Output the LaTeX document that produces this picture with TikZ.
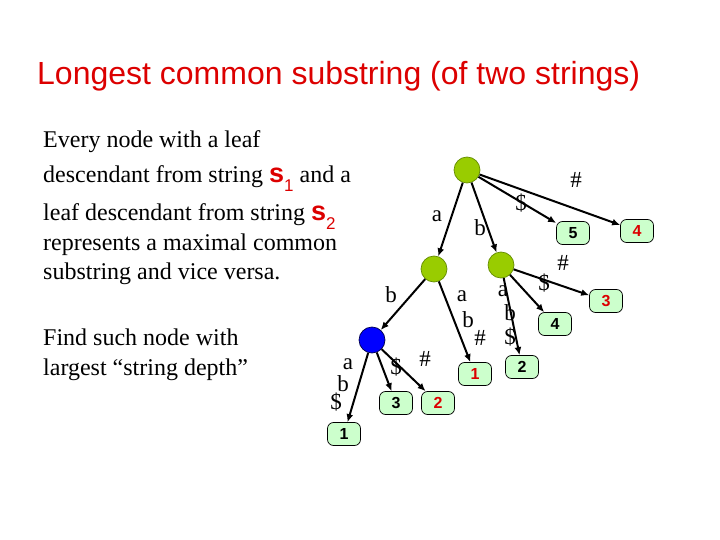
\documentclass[tikz,border=0pt]{standalone}
\usepackage{fontspec}
\setmainfont{Liberation Serif}
\setsansfont{Liberation Sans}
\usetikzlibrary{arrows.meta}
\definecolor{titlered}{RGB}{220,0,0}
\definecolor{leaffill}{RGB}{204,255,204}
\definecolor{inner}{RGB}{153,204,0}
\definecolor{innerdraw}{RGB}{100,140,0}
\definecolor{bluenode}{RGB}{0,0,255}
\tikzset{
  inode/.style={circle,draw=innerdraw,fill=inner,line width=0.7pt,minimum size=26pt,inner sep=0pt},
  bnode/.style={circle,draw=black!70!blue,fill=bluenode,line width=0.7pt,minimum size=26pt,inner sep=0pt},
  leaf/.style={rectangle,rounded corners=6pt,draw=black,fill=leaffill,line width=0.7pt,minimum width=33pt,minimum height=23pt,inner sep=0pt,font=\sffamily\bfseries\fontsize{16}{16}\selectfont},
  redleaf/.style={leaf,text=titlered},
  edge/.style={line width=2pt,-{Latex[length=8pt,width=7pt]}},
  lab/.style={inner sep=0pt,font=\fontsize{23}{23}\selectfont},
  body/.style={anchor=base west,inner sep=0pt,font=\fontsize{24}{24}\selectfont},
}
\newcommand{\sone}[1]{{\color{titlered}\textsf{\textbf{\fontsize{27}{27}\selectfont s}}\raisebox{-9pt}{\textsf{\fontsize{17}{17}\selectfont #1}}}}
\begin{document}
\begin{tikzpicture}[x=1pt,y=-1pt]
\useasboundingbox (0,0) rectangle (720,540);
% title
\node[anchor=base west,inner sep=0pt,text=titlered,font=\sffamily\fontsize{32}{32}\selectfont] (title) at (37,85) {Longest common substring (of two strings)};
% body text
\node[body] (t1) at (43,148) {Every node with a leaf};
\node[body] (t2) at (43,183) {descendant from string \sone{1} and a};
\node[body] (t3) at (43,221) {leaf descendant from string \sone{2}};
\node[body] (t4) at (43,251) {represents a maximal common};
\node[body] (t5) at (43,279) {substring and vice versa.};
\node[body] (t6) at (43,345) {Find such node with};
\node[body] (t7) at (43,375) {largest “string depth”};
% tree nodes
\node[inode] (root) at (467,170) {};
\node[inode] (A) at (434,269) {};
\node[inode] (B) at (501,265) {};
\node[bnode] (blue) at (372,340) {};
\node[leaf] (l5) at (573,233) {5};
\node[redleaf] (l4r) at (637,231) {4};
\node[redleaf] (l3r) at (606,301) {3};
\node[leaf] (l4) at (555,324) {4};
\node[leaf] (l2) at (522,367) {2};
\node[redleaf] (l1r) at (475,374) {1};
\node[leaf] (l3) at (396,403) {3};
\node[redleaf] (l2r) at (438,403) {2};
\node[leaf] (l1) at (344,434) {1};
% edges
\draw[edge] (root) -- (A);
\draw[edge] (root) -- (B);
\draw[edge] (root) -- (l5);
\draw[edge] (root) -- (l4r);
\draw[edge] (A) -- (blue);
\draw[edge] (A) -- (l1r);
\draw[edge] (blue) -- (l1);
\draw[edge] (blue) -- (l3);
\draw[edge] (blue) -- (l2r);
\draw[edge] (B) -- (l2);
\draw[edge] (B) -- (l4);
\draw[edge] (B) -- (l3r);
% edge labels
\node[lab] (e1) at (437,216) {a};
\node[lab] (e2) at (480,228) {b};
\node[lab] (e3) at (521,203) {\$};
\node[lab] (e4) at (576,180) {\#};
\node[lab] (e5) at (391,295) {b};
\node[lab] (e6a) at (462,296) {a};
\node[lab] (e6b) at (468,320) {b};
\node[lab] (e6c) at (480,338) {\#};
\node[lab] (e7a) at (348,364) {a};
\node[lab] (e7b) at (343,384) {b};
\node[lab] (e7c) at (336,402) {\$};
\node[lab] (e8) at (396,367) {\$};
\node[lab] (e9) at (425,359) {\#};
\node[lab] (e10a) at (503,291) {a};
\node[lab] (e10b) at (510,313) {b};
\node[lab] (e10c) at (510,337) {\$};
\node[lab] (e11) at (544,283) {\$};
\node[lab] (e12) at (563,263) {\#};
\end{tikzpicture}
\end{document}
